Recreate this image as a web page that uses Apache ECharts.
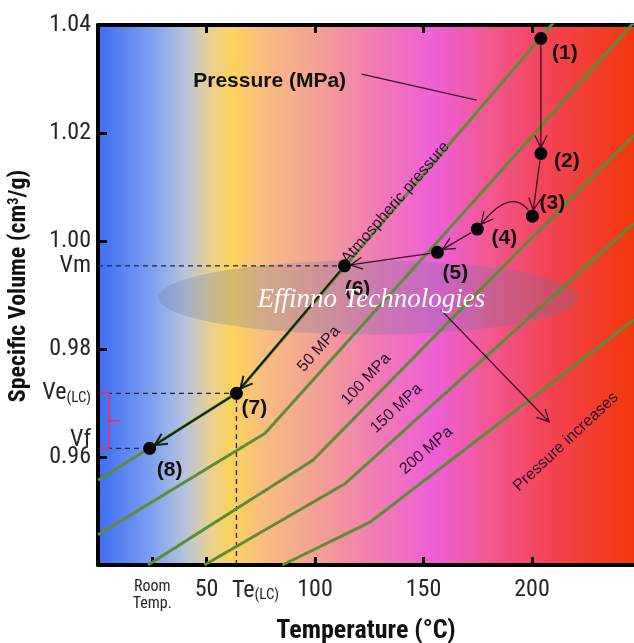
<!DOCTYPE html>
<html><head><meta charset="utf-8">
<script src="https://cdn.jsdelivr.net/npm/echarts@6/dist/echarts.min.js"></script>
<style>html,body{margin:0;padding:0;background:#fff}#c{width:634px;height:643px}</style>
</head><body><div id="c"></div>
<script>
const NARROW = '"Liberation Sans Narrow","Arial Narrow","Roboto Condensed","Liberation Sans",Arial,sans-serif';
const SANS = '"Liberation Sans",Arial,sans-serif';

// ---- data ----
const pointNames = ['(1)','(2)','(3)','(4)','(5)','(6)','(7)','(8)'];
const pointT = [204.1, 204.1, 200.2, 174.8, 156.4, 113.6, 63.8, 23.8];
const pointV = [1.0375, 1.0162, 1.0046, 1.0022, 0.9979, 0.9954, 0.9718, 0.9616];

const isobarNames = ['Atmospheric pressure', '50 MPa', '100 MPa', '150 MPa', '200 MPa'];
const atmT = [0, 63.8, 210];          const atmV = [0.9557, 0.9718, 1.0405];
const p50T = [0, 77, 176, 247];       const p50V = [0.9456, 0.9644, 1.0086, 1.0405];
const p100T = [23, 99, 176, 247];     const p100V = [0.9400, 0.9594, 0.9909, 1.0196];
const p150T = [49, 114, 247];         const p150V = [0.9400, 0.9551, 1.0033];
const p200T = [85, 125.6, 247];       const p200V = [0.9400, 0.9480, 0.9854];

const xTickValues = [25, 50, 100, 150, 200];
const xTopTickValues = [50, 100, 150, 200];
const yTickValues = [0.96, 0.98, 1.00, 1.02, 1.04];
const roomTemp = 25;
const Te = pointT[6];
const Vm = pointV[5], Ve = pointV[6], Vf = pointV[7];

// annotation anchors (data coordinates)
const pressureLabelAt = [79.1, 1.0295];
const pressurePointer = [[121.5, 1.0309], [174.5, 1.0261]];
const increaseArrow = [[158.1, 0.9872], [207.9, 0.9665]];
const isobarLabelAt = [[137.1, 1.0071], [101.8, 0.9800], [123.6, 0.9744], [137.5, 0.9690], [151.3, 0.9612]];
const increaseLabelAt = [215.6, 0.9628];
const watermarkAt = [126.0, 0.9890];

// ---- styles ----
const isobarAngles = [49, 48, 47, 43, 41];
const labelOffsets = [[24,15],[26,8],[20,-13],[27,9],[18,21],[13,23],[18,15],[20,22]];
const arrowBends = [[0,0],[0,0],[38,-17],[0,0],[0,0],[0,0],[0,0]];

const zip = (a, b) => a.map((v, i) => [v, b[i]]);
const isoData = [zip(atmT, atmV), zip(p50T, p50V), zip(p100T, p100V), zip(p150T, p150V), zip(p200T, p200V)];

function trim(pts, g0, g1) {
  const cum = [0];
  for (let i = 1; i < pts.length; i++) cum.push(cum[i-1] + Math.hypot(pts[i][0]-pts[i-1][0], pts[i][1]-pts[i-1][1]));
  const total = cum[cum.length-1];
  const at = d => {
    for (let i = 0; i < pts.length-1; i++) {
      if (d <= cum[i+1] || i === pts.length-2) {
        const f = (d - cum[i]) / ((cum[i+1]-cum[i]) || 1);
        return [pts[i][0] + (pts[i+1][0]-pts[i][0])*f, pts[i][1] + (pts[i+1][1]-pts[i][1])*f];
      }
    }
  };
  const s = g0, e = total - g1;
  const out = [at(s)];
  for (let i = 1; i < pts.length-1; i++) if (cum[i] > s && cum[i] < e) out.push(pts[i]);
  out.push(at(e));
  return out;
}
function arrowGroup(pts, head, color, width) {
  const children = [{type:'polyline', shape:{points:pts}, style:{stroke:color, lineWidth:width, fill:null}}];
  if (head) {
    const a = pts[pts.length-2], b = pts[pts.length-1];
    const dx = b[0]-a[0], dy = b[1]-a[1], L = Math.hypot(dx, dy) || 1;
    const ux = dx/L, uy = dy/L, hl = 12, hw = 6;
    const bx = b[0]-ux*hl, by = b[1]-uy*hl;
    children.push({type:'polyline', shape:{points:[[bx-uy*hw, by+ux*hw], b, [bx+uy*hw, by-ux*hw]]},
      style:{stroke:color, lineWidth:width, fill:null}});
  }
  return {type:'group', children};
}

const processArrows = [];
for (let i = 0; i < pointT.length-1; i++) processArrows.push([pointT[i], pointV[i], pointT[i+1], pointV[i+1]]);

const isoColor = '#5c8c3a';
const dashStyle = {color:'#1b2350', width:1.3, type:[5,4]};

const series = [];
isoData.forEach((d, i) => series.push({
  type:'line', name:isobarNames[i], data:d, symbol:'none', clip:true, z:3,
  lineStyle:{color:isoColor, width:3}, silent:true
}));
[[[0, Vm], [pointT[5], Vm]], [[0, Ve], [pointT[6], Ve]], [[0, Vf], [pointT[7], Vf]], [[Te, 0.94], [Te, Ve]]]
  .forEach(d => series.push({type:'line', data:d, symbol:'none', lineStyle:dashStyle, z:2, silent:true}));

series.push({
  type:'custom', z:5, silent:true, data:processArrows, encode:{x:[0,2], y:[1,3]},
  renderItem(params, api) {
    const p0 = api.coord([api.value(0), api.value(1)]);
    const p1 = api.coord([api.value(2), api.value(3)]);
    const [bend, skew] = arrowBends[params.dataIndex];
    let pts;
    if (bend) {
      const dx = p1[0]-p0[0], dy = p1[1]-p0[1], L = Math.hypot(dx, dy);
      const ux = dx/L, uy = dy/L, nx = -uy, ny = ux;
      const c = [(p0[0]+p1[0])/2 + nx*bend + ux*skew, (p0[1]+p1[1])/2 + ny*bend + uy*skew];
      pts = [];
      for (let k = 0; k <= 40; k++) {
        const t = k/40;
        pts.push([(1-t)*(1-t)*p0[0] + 2*t*(1-t)*c[0] + t*t*p1[0], (1-t)*(1-t)*p0[1] + 2*t*(1-t)*c[1] + t*t*p1[1]]);
      }
    } else pts = [p0, p1];
    const late = params.dataIndex >= 5;
    return arrowGroup(trim(pts, 7, 6), true, late ? '#142010' : '#3a0f22', late ? 2 : 1.3);
  }
});

series.push({
  type:'custom', z:5, silent:true, data:[[pressurePointer[0][0], pressurePointer[0][1], pressurePointer[1][0], pressurePointer[1][1], 0],
                             [increaseArrow[0][0], increaseArrow[0][1], increaseArrow[1][0], increaseArrow[1][1], 1]],
  encode:{x:[0,2], y:[1,3]},
  renderItem(params, api) {
    const p0 = api.coord([api.value(0), api.value(1)]);
    const p1 = api.coord([api.value(2), api.value(3)]);
    return arrowGroup([p0, p1], api.value(4) === 1, '#3a1030', 1.4);
  }
});

series.push({
  type:'custom', z:5, silent:true, data:[[0, Ve, 0, Vf]], encode:{x:[0,2], y:[1,3]},
  renderItem(params, api) {
    const a = api.coord([api.value(0), api.value(1)]);
    const b = api.coord([api.value(2), api.value(3)]);
    const x = a[0], ym = (a[1]+b[1])/2, st = {stroke:'#e0336c', lineWidth:1.6, fill:null};
    return {type:'group', children:[
      {type:'polyline', shape:{points:[[x+2, a[1]], [x+11, a[1]], [x+11, b[1]], [x+2, b[1]]]}, style:st},
      {type:'line', shape:{x1:x+11, y1:ym, x2:x+22, y2:ym}, style:st}
    ]};
  }
});

series.push({
  type:'scatter', z:6, symbolSize:13, itemStyle:{color:'#050505', opacity:1}, silent:true,
  data:pointT.map((t, i) => ({name:pointNames[i], value:[t, pointV[i]], label:{offset:labelOffsets[i]}})),
  label:{show:true, position:'inside', formatter:p => p.name, fontFamily:SANS, fontWeight:'bold', fontSize:21, color:'#111'}
});

const fmtY = v => {
  if (Math.abs(v - Vm) < 1e-7) return '{n|Vm}';
  if (Math.abs(v - Ve) < 1e-7) return '{n|Ve}{sub|(LC)}';
  if (Math.abs(v - Vf) < 1e-7) return '{vf|Vf}';
  return '{n|' + v.toFixed(2) + '}';
};
const fmtX = v => {
  if (v === roomTemp) return '{s|Room}\n{s|Temp.}';
  if (Math.abs(v - Te) < 1e-7) return '{te|Te}{sub|(LC)}';
  return '{n|' + v + '}';
};
const tickTxt = {fontFamily:NARROW, fontSize:24, color:'#262626'};
const subTxt = {fontFamily:NARROW, fontSize:15, color:'#262626', verticalAlign:'bottom', padding:[10,0,0,0]};

const option = {
  animation:false,
  grid:{left:98, right:0, top:25, bottom:78, show:true, borderWidth:0, containLabel:false, outerBoundsMode:'none',
    backgroundColor:{type:'linear', x:0, y:0, x2:1, y2:0, colorStops:[
      {offset:0, color:'#3d6cf2'}, {offset:0.097, color:'#7a9ef0'}, {offset:0.16, color:'#b4c2de'},
      {offset:0.21, color:'#e8d090'}, {offset:0.25, color:'#fdd35a'}, {offset:0.31, color:'#f8bc82'},
      {offset:0.41, color:'#f3a093'}, {offset:0.525, color:'#f07ab6'}, {offset:0.63, color:'#ee5fd6'},
      {offset:0.73, color:'#f25890'}, {offset:0.83, color:'#f3445a'}, {offset:1, color:'#f2380a'}]}},
  xAxis:[{
    type:'value', position:'bottom', min:0, max:247,
    axisLine:{onZero:false, lineStyle:{color:'#000', width:4}},
    axisTick:{inside:true, length:8, customValues:xTickValues, lineStyle:{color:'#000', width:3}},
    axisLabel:{customValues:[roomTemp, 50, Te, 100, 150, 200], formatter:fmtX, margin:13, hideOverlap:false,
      showMinLabel:true, showMaxLabel:true,
      rich:{n:tickTxt, te:Object.assign({}, tickTxt, {padding:[0,0,0,38]}), sub:subTxt,
        s:{fontFamily:NARROW, fontSize:16, lineHeight:17, color:'#262626'}}},
    splitLine:{show:false},
    name:'Temperature (°C)', nameLocation:'middle', nameGap:53,
    nameTextStyle:{fontFamily:NARROW, fontWeight:'bold', fontSize:26, color:'#111'}
  }, {
    type:'value', position:'top', min:0, max:247,
    axisLine:{onZero:false, lineStyle:{color:'#000', width:4}},
    axisTick:{inside:true, length:8, customValues:xTopTickValues, lineStyle:{color:'#000', width:3}},
    axisLabel:{show:false}, splitLine:{show:false}
  }],
  yAxis:{
    type:'value', min:0.94, max:1.04,
    axisLine:{onZero:false, lineStyle:{color:'#000', width:4}},
    axisTick:{inside:true, length:9, customValues:yTickValues, lineStyle:{color:'#000', width:3}},
    axisLabel:{customValues:[Vm, yTickValues[0], Vf, yTickValues[1], Ve, yTickValues[2], yTickValues[3], yTickValues[4]],
      formatter:fmtY, margin:7, hideOverlap:false, showMinLabel:true, showMaxLabel:true,
      rich:{n:tickTxt, sub:subTxt, vf:Object.assign({}, tickTxt, {padding:[0,0,16,0]})}},
    splitLine:{show:false},
    name:'{b|Specific Volume (cm}{sup|3}{b|/g)}', nameLocation:'middle', nameGap:55, nameRotate:90,
    nameTextStyle:{padding:[0,0,0,18], rich:{b:{fontFamily:NARROW, fontWeight:'bold', fontSize:24, color:'#111'},
      sup:{fontFamily:NARROW, fontWeight:'bold', fontSize:14, color:'#111', verticalAlign:'top'}}}
  },
  series
};

const chart = echarts.init(document.getElementById('c'));
chart.setOption(option);
const px = p => chart.convertToPixel({xAxisIndex:0, yAxisIndex:0}, p);
const rad = d => d * Math.PI / 180;
const annotColor = '#2b0a2e';
const graphic = [];
const wm = px(watermarkAt);
graphic.push({type:'ellipse', z:1, silent:true, shape:{cx:wm[0]-3, cy:wm[1]-3, rx:210, ry:37},
  style:{fill:'rgba(105,118,160,0.27)'}});
graphic.push({type:'text', z:21, silent:true, x:wm[0], y:wm[1],
  style:{text:'Effinno Technologies', fontFamily:'"Liberation Serif","DejaVu Serif",serif', fontStyle:'italic',
    fontSize:27, fill:'#ffffff', align:'center', verticalAlign:'middle'}});
const pl = px(pressureLabelAt);
graphic.push({type:'text', z:22, silent:true, x:pl[0], y:pl[1],
  style:{text:'Pressure (MPa)', fontFamily:SANS, fontWeight:'bold', fontSize:21, fill:'#111', align:'center', verticalAlign:'middle'}});
isobarLabelAt.forEach((p, i) => {
  const q = px(p);
  graphic.push({type:'text', z:22, silent:true, x:q[0], y:q[1], rotation:rad(isobarAngles[i]),
    style:{text:isobarNames[i], fontFamily:SANS, fontSize:16, fill:annotColor, align:'center', verticalAlign:'middle'}});
});
const il = px(increaseLabelAt);
graphic.push({type:'text', z:22, silent:true, x:il[0], y:il[1], rotation:rad(43),
  style:{text:'Pressure increases', fontFamily:SANS, fontSize:16, fill:annotColor, align:'center', verticalAlign:'middle'}});
chart.setOption({graphic});
</script></body></html>
